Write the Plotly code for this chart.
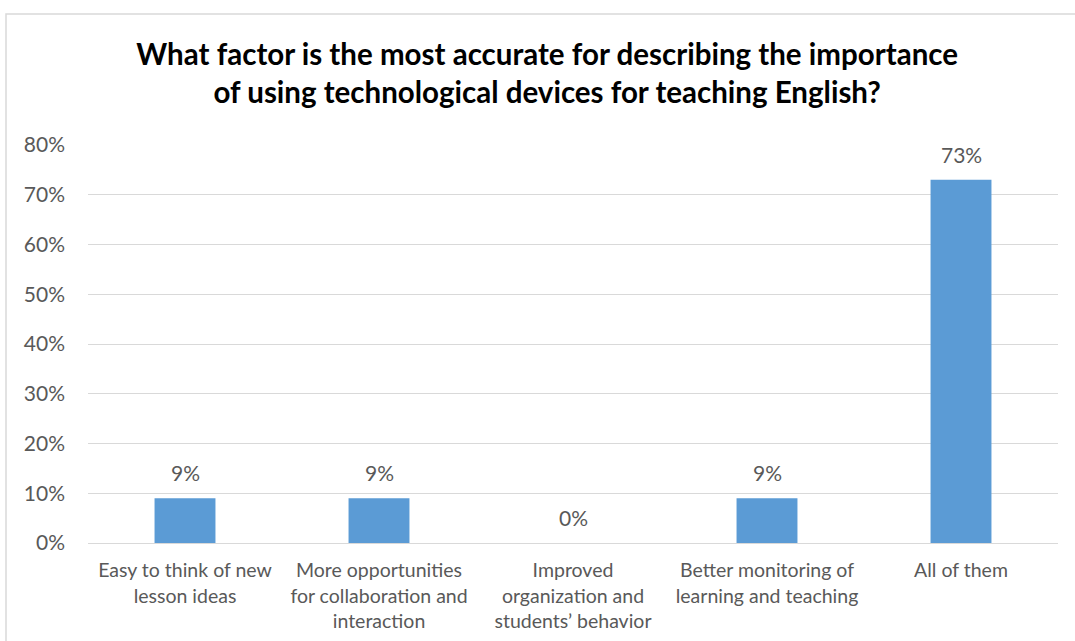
import plotly.graph_objects as go

categories = [
    "Easy to think of new<br>lesson ideas",
    "More opportunities<br>for collaboration and<br>interaction",
    "Improved<br>organization and<br>students’ behavior",
    "Better monitoring of<br>learning and teaching",
    "All of them",
]
shares = [0.09, 0.09, 0.0, 0.09, 0.73]
y_ticks = [0, 0.1, 0.2, 0.3, 0.4, 0.5, 0.6, 0.7, 0.8]

title_text = ("What factor is the most accurate for describing the importance<br>"
              "of using technological devices for teaching English?")

font_family = "Lato, Calibri, 'Noto Sans', sans-serif"
grey_text = "#595959"

fig = go.Figure(
    go.Bar(
        x=categories,
        y=shares,
        marker=dict(color="#5B9BD5", line=dict(width=0)),
        width=0.314,
        hoverinfo="x+y",
    )
)

# value labels above each bar
for cat, v in zip(categories, shares):
    fig.add_annotation(
        x=cat, y=v, xref="x", yref="y",
        text=f"{v:.0%}",
        showarrow=False,
        yanchor="bottom",
        yshift=11,
        font=dict(family=font_family, size=21, color=grey_text),
    )

fig.update_layout(
    width=1075,
    height=641,
    paper_bgcolor="white",
    plot_bgcolor="white",
    margin=dict(l=88, r=17, t=145, b=98, autoexpand=False),
    showlegend=False,
    title=dict(
        text="<b>" + title_text + "</b>",
        x=0.509,
        xanchor="center",
        y=0.899,
        yanchor="middle",
        font=dict(family=font_family, size=29.5, color="#000000"),
    ),
    font=dict(family=font_family, color=grey_text),
    shapes=[
        dict(
            type="rect",
            xref="paper", yref="paper",
            x0=-82 / 970, x1=1.05, y0=-0.3, y1=1 + 131 / 398,
            line=dict(color="#d9d9d9", width=1.5),
            fillcolor="rgba(0,0,0,0)",
            layer="below",
        )
    ],
)

fig.update_xaxes(
    showline=True,
    linecolor="#d9d9d9",
    linewidth=1,
    tickfont=dict(family=font_family, size=19.5, color=grey_text),
    ticks="",
    ticklabelstandoff=10,
    automargin=False,
    fixedrange=True,
)
fig.update_yaxes(
    range=[0, 0.8],
    tickvals=y_ticks,
    tickformat=".0%",
    showgrid=True,
    gridcolor="#d9d9d9",
    gridwidth=1,
    zeroline=False,
    tickfont=dict(family=font_family, size=21, color=grey_text),
    ticks="",
    ticklabelstandoff=22,
    automargin=False,
    fixedrange=True,
)

fig.write_html("out.html")
